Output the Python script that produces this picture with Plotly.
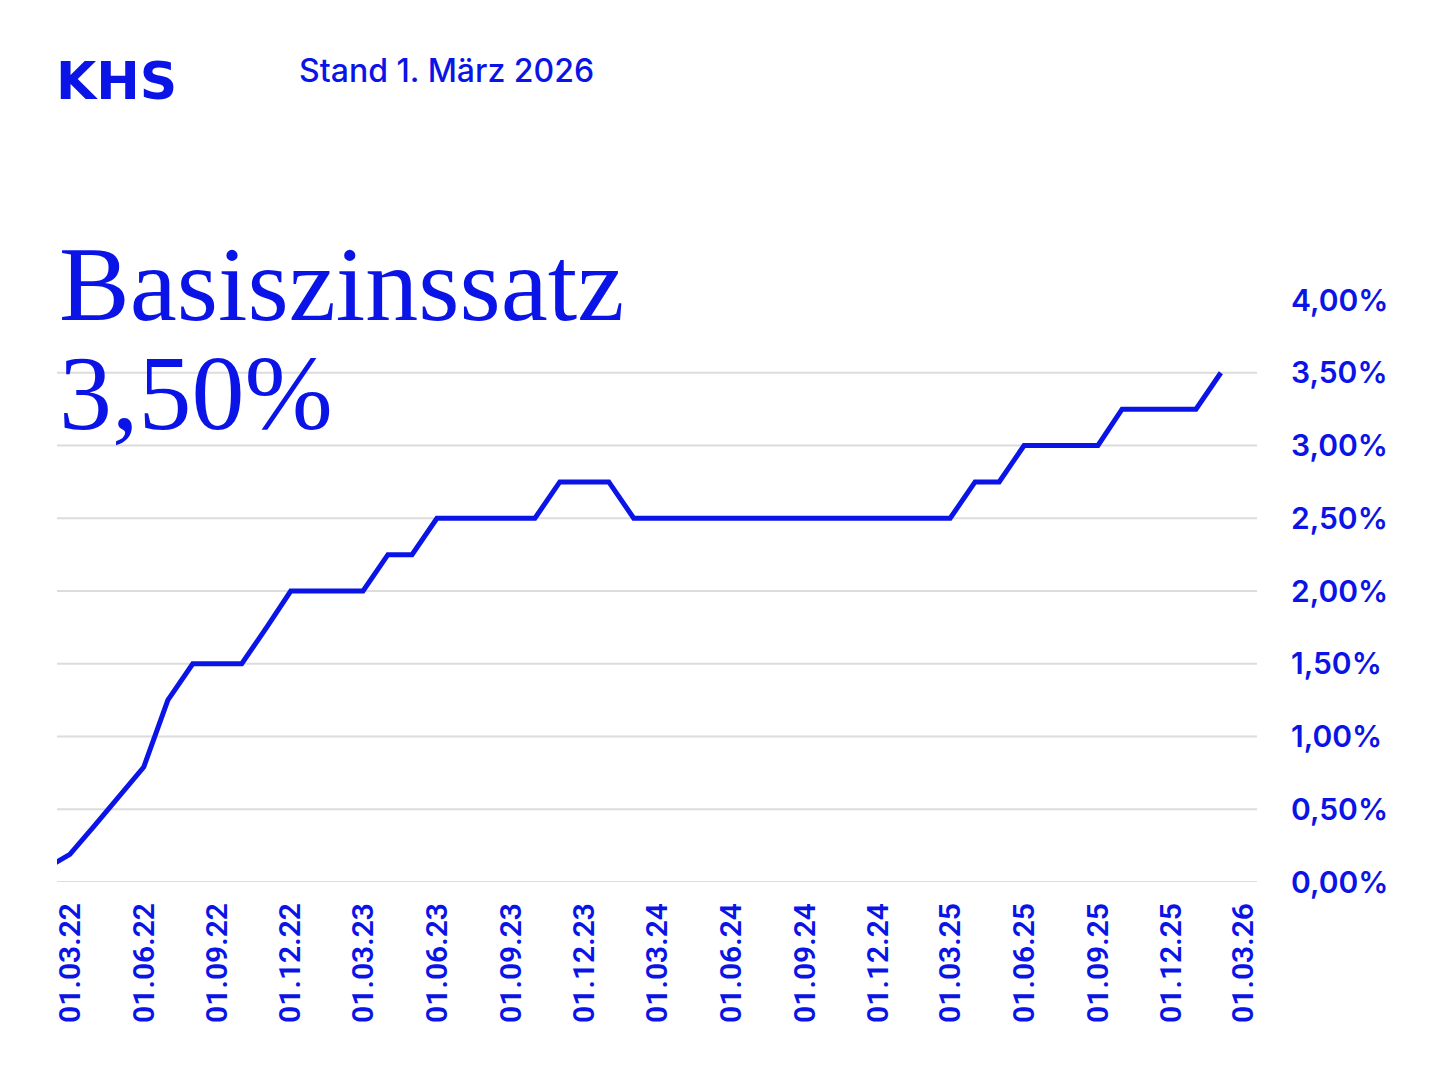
import plotly.graph_objects as go

BLUE = "#0A14E6"
GRID = "#DCDCDC"

dates = [
    "2022-02-01", "2022-03-01", "2022-04-01", "2022-05-01", "2022-06-01", "2022-07-01",
    "2022-08-01", "2022-09-01", "2022-10-01", "2022-11-01", "2022-12-01",
    "2023-01-01", "2023-02-01", "2023-03-01", "2023-04-01", "2023-05-01", "2023-06-01",
    "2023-07-01", "2023-08-01", "2023-09-01", "2023-10-01", "2023-11-01", "2023-12-01",
    "2024-01-01", "2024-02-01", "2024-03-01", "2024-04-01", "2024-05-01", "2024-06-01",
    "2024-07-01", "2024-08-01", "2024-09-01", "2024-10-01", "2024-11-01", "2024-12-01",
    "2025-01-01", "2025-02-01", "2025-03-01", "2025-04-01", "2025-05-01", "2025-06-01",
    "2025-07-01", "2025-08-01", "2025-09-01", "2025-10-01", "2025-11-01", "2025-12-01",
    "2026-01-01", "2026-02-01",
]
rates = [
    0.10, 0.19, 0.39, 0.59, 0.79, 1.25,
    1.50, 1.50, 1.50, 1.75, 2.00,
    2.00, 2.00, 2.00, 2.25, 2.25, 2.50,
    2.50, 2.50, 2.50, 2.50, 2.75, 2.75,
    2.75, 2.50, 2.50, 2.50, 2.50, 2.50,
    2.50, 2.50, 2.50, 2.50, 2.50, 2.50,
    2.50, 2.50, 2.50, 2.75, 2.75, 3.00,
    3.00, 3.00, 3.00, 3.25, 3.25, 3.25,
    3.25, 3.50,
]

x_tick_vals = [
    "2022-03-01", "2022-06-01", "2022-09-01", "2022-12-01",
    "2023-03-01", "2023-06-01", "2023-09-01", "2023-12-01",
    "2024-03-01", "2024-06-01", "2024-09-01", "2024-12-01",
    "2025-03-01", "2025-06-01", "2025-09-01", "2025-12-01", "2026-03-01",
]
x_tick_text = [
    "01.03.22", "01.06.22", "01.09.22", "01.12.22",
    "01.03.23", "01.06.23", "01.09.23", "01.12.23",
    "01.03.24", "01.06.24", "01.09.24", "01.12.24",
    "01.03.25", "01.06.25", "01.09.25", "01.12.25", "01.03.26",
]
y_tick_vals = [0, 0.5, 1.0, 1.5, 2.0, 2.5, 3.0, 3.5, 4.0]
y_tick_text = ["0,00%", "0,50%", "1,00%", "1,50%", "2,00%", "2,50%", "3,00%", "3,50%", "4,00%"]
grid_levels = [0, 0.5, 1.0, 1.5, 2.0, 2.5, 3.0, 3.5]

fig = go.Figure()
fig.add_trace(go.Scatter(
    x=dates, y=rates, mode="lines",
    line=dict(color=BLUE, width=5),
    hoverinfo="skip", showlegend=False, cliponaxis=True,
))

for g in grid_levels:
    fig.add_shape(type="line", xref="paper", x0=0, x1=1, yref="y", y0=g, y1=g,
                  line=dict(color=GRID, width=2), layer="below")

fig.update_layout(
    width=1439, height=1080,
    margin=dict(l=49, r=190, t=292, b=206),
    paper_bgcolor="white", plot_bgcolor="white",
    showlegend=False,
    xaxis=dict(
        range=["2022-02-13", "2026-03-18"],
        tickmode="array", tickvals=x_tick_vals, ticktext=x_tick_text,
        tickangle=-90, showgrid=False, zeroline=False, showline=False,
        ticks="outside", ticklen=8, tickcolor="rgba(0,0,0,0)",
        tickfont=dict(family="Roboto", size=30, color=BLUE, weight=600),
    ),
    yaxis=dict(
        range=[0, 4], side="right",
        tickmode="array", tickvals=y_tick_vals, ticktext=y_tick_text,
        showgrid=False, zeroline=False, showline=False,
        ticks="outside", ticklen=27, tickcolor="rgba(0,0,0,0)",
        tickfont=dict(family="Inter", size=30, color=BLUE, weight=600),
    ),
)

def py(pix):
    return (882 - pix) / 582.0

def px(pix):
    return (pix - 57) / 1200.0

fig.add_annotation(text="KHS", xref="paper", yref="paper", x=px(54), y=py(49),
                   xanchor="left", yanchor="top", showarrow=False,
                   font=dict(family="DejaVu Sans", size=52, color=BLUE, weight="bold"))
fig.add_annotation(text="Stand 1. März 2026", xref="paper", yref="paper",
                   x=px(297), y=py(49),
                   xanchor="left", yanchor="top", showarrow=False,
                   font=dict(family="Inter", size=32, color=BLUE, weight=500))
fig.add_annotation(text="Basiszinssatz", xref="paper", yref="paper", x=px(57), y=py(224),
                   xanchor="left", yanchor="top", showarrow=False,
                   font=dict(family="Liberation Serif", size=106, color=BLUE))
fig.add_annotation(text="3,50%", xref="paper", yref="paper", x=px(57), y=py(333),
                   xanchor="left", yanchor="top", showarrow=False,
                   font=dict(family="Liberation Serif", size=106, color=BLUE))

fig.write_html("out.html")
